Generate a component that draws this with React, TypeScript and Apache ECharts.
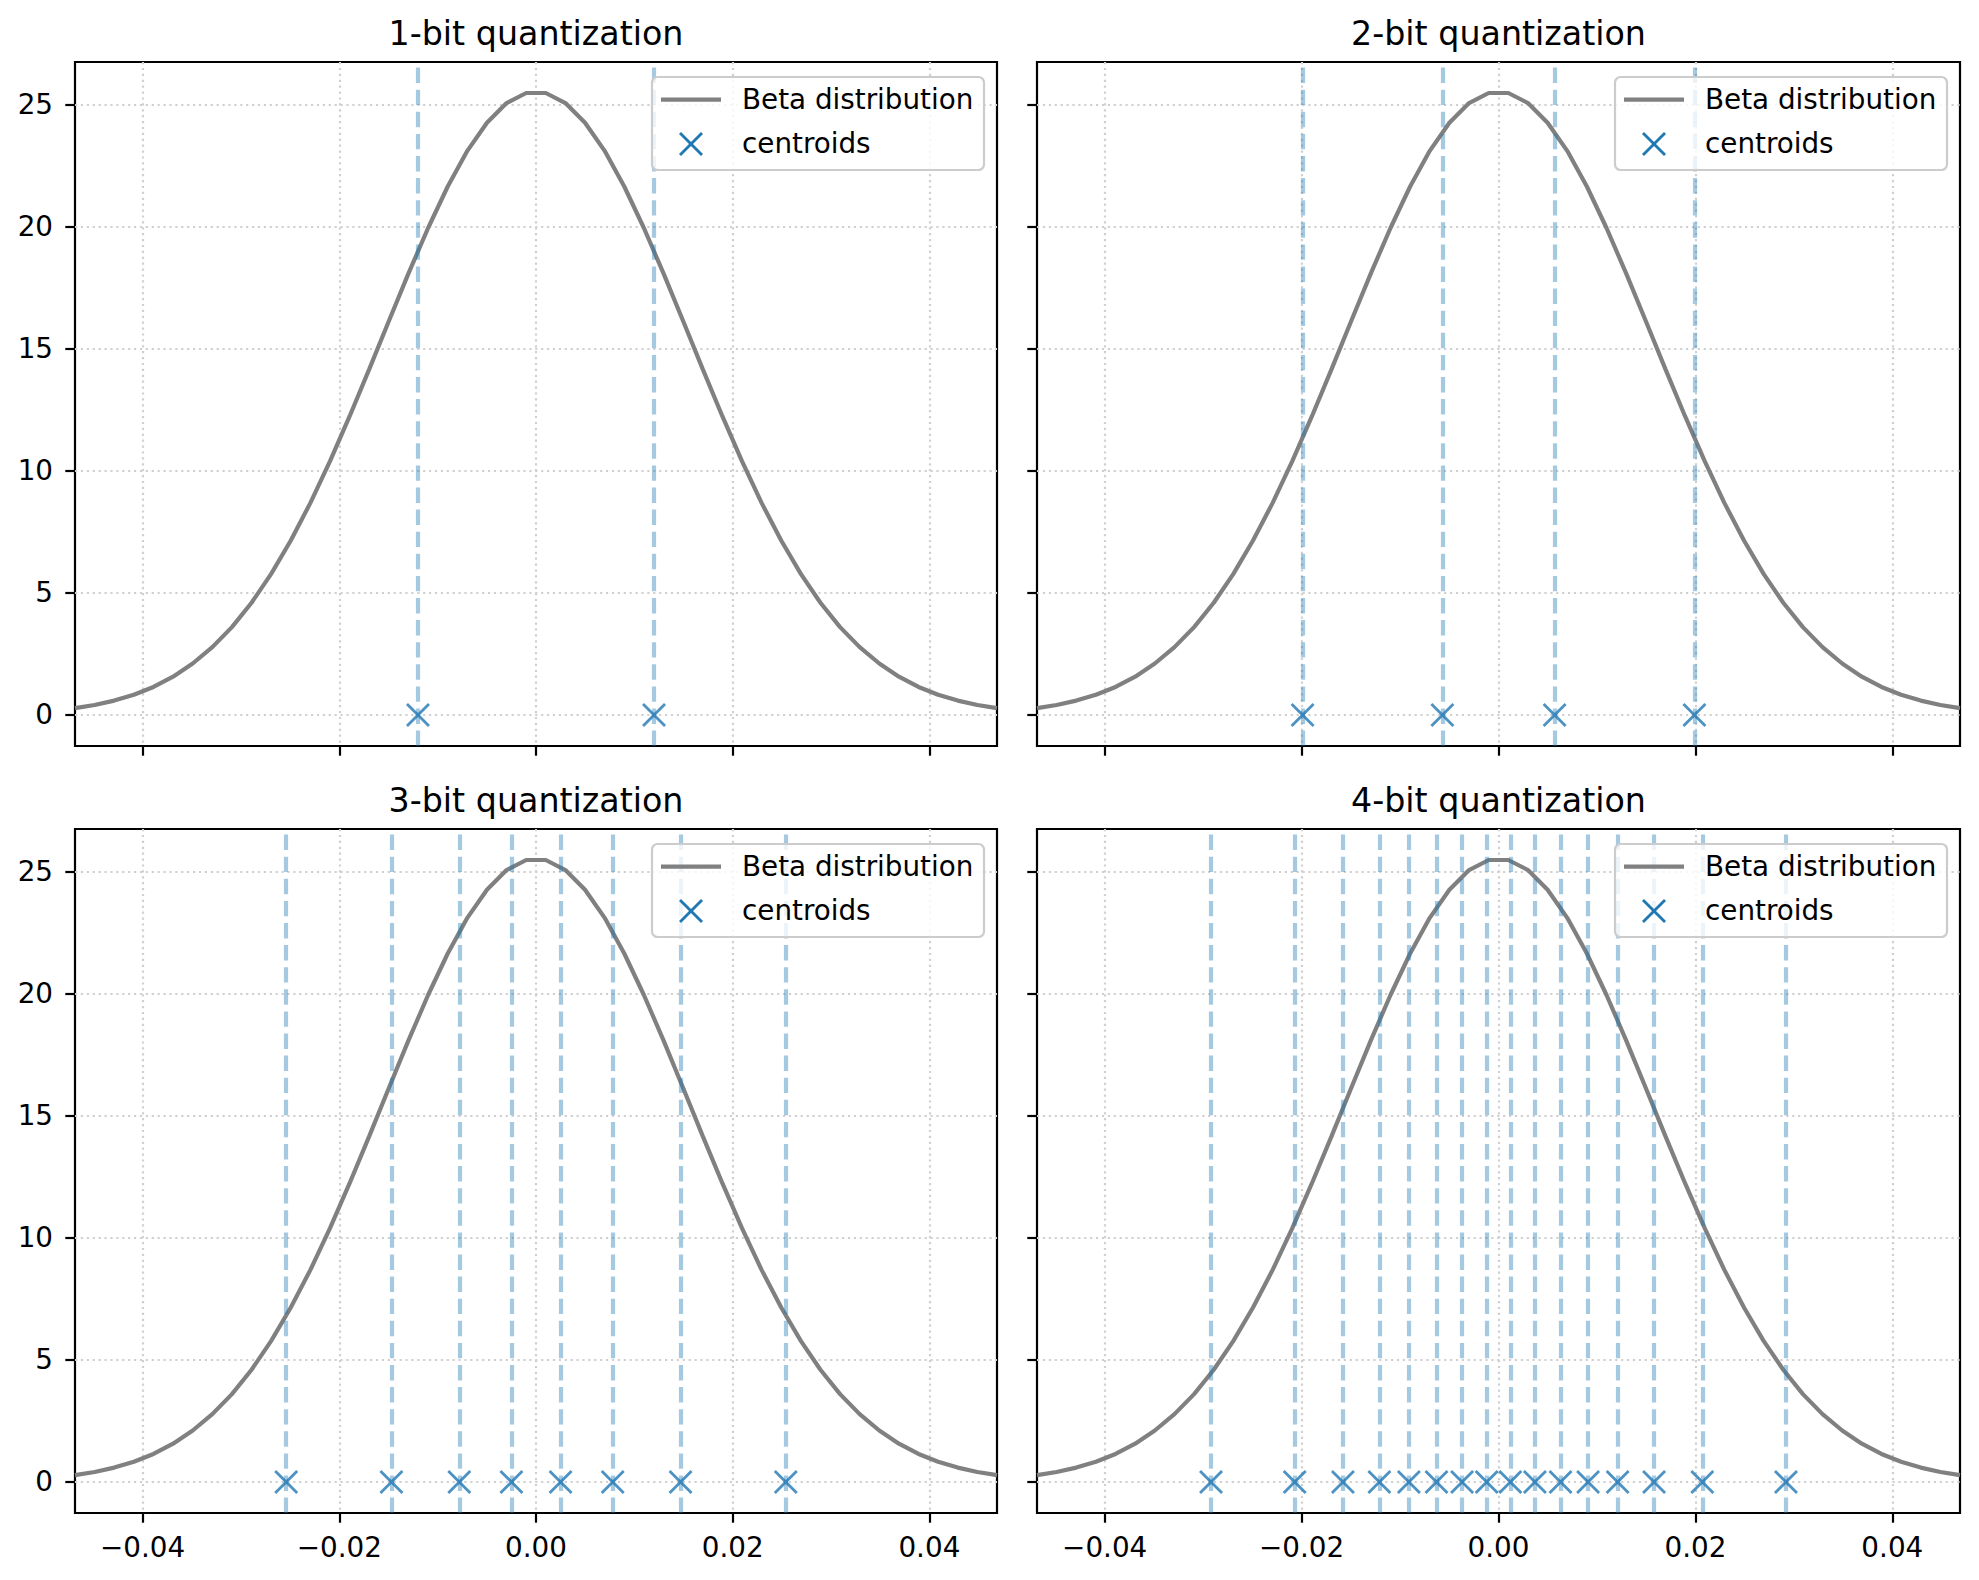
import React, { useEffect, useRef } from "react";
import * as echarts from "echarts";

// Sample positions of the plotted density curve
const XS = [
  -0.046875, -0.04488, -0.042886, -0.040891, -0.038896, -0.036902, -0.034907, -0.032912,
  -0.030918, -0.028923, -0.026928, -0.024934, -0.022939, -0.020944, -0.018949, -0.016955,
  -0.01496, -0.012965, -0.010971, -0.008976, -0.006981, -0.004987, -0.002992, -0.000997,
  0.000997, 0.002992, 0.004987, 0.006981, 0.008976, 0.010971, 0.012965, 0.01496,
  0.016955, 0.018949, 0.020944, 0.022939, 0.024934, 0.026928, 0.028923, 0.030918,
  0.032912, 0.034907, 0.036902, 0.038896, 0.040891, 0.042886, 0.04488, 0.046875,
];
// Beta distribution density
const DENSITY = [
  0.28, 0.41, 0.59, 0.83, 1.15, 1.57, 2.11, 2.78, 3.6, 4.6, 5.78, 7.15,
  8.69, 10.4, 12.24, 14.17, 16.14, 18.09, 19.95, 21.65, 23.11, 24.26, 25.07, 25.48,
  25.48, 25.07, 24.26, 23.11, 21.65, 19.95, 18.09, 16.14, 14.17, 12.24, 10.4, 8.69,
  7.15, 5.78, 4.6, 3.6, 2.78, 2.11, 1.57, 1.15, 0.83, 0.59, 0.41, 0.28,
];

const CENTROIDS_1 = [-0.012, 0.012];
const CENTROIDS_2 = [-0.0199, -0.0057, 0.0057, 0.0199];
const CENTROIDS_3 = [-0.0254, -0.0147, -0.0078, -0.0025, 0.0025, 0.0078, 0.0147, 0.0254];
const CENTROIDS_4 = [
  -0.0292, -0.0207, -0.0158, -0.0121, -0.0091, -0.0063, -0.0037, -0.0012,
  0.0012, 0.0037, 0.0063, 0.0091, 0.0121, 0.0158, 0.0207, 0.0292,
];
const CENTROID_SETS = [CENTROIDS_1, CENTROIDS_2, CENTROIDS_3, CENTROIDS_4];

const TITLES = ["1-bit quantization", "2-bit quantization", "3-bit quantization", "4-bit quantization"];
const LEGEND_LABELS = ["Beta distribution", "centroids"];
const X_TICKS = [-0.04, -0.02, 0, 0.02, 0.04];
const Y_TICKS = [0, 5, 10, 15, 20, 25];
const X_MIN = -0.046875;
const X_MAX = 0.046875;
const Y_MIN = -1.27;
const Y_MAX = 26.75;

const FONT = "DejaVu Sans";
const PANELS = [
  { left: 75, top: 62, width: 922, height: 684 },
  { left: 1037, top: 62, width: 923, height: 684 },
  { left: 75, top: 829, width: 922, height: 684 },
  { left: 1037, top: 829, width: 923, height: 684 },
];

const fmtX = (v: number) => {
  if (Math.abs(v) < 1e-12) return "0.00";
  return (v < 0 ? "\u2212" : "") + Math.abs(v).toFixed(2);
};

function buildOption() {
  const grid = PANELS.map((p) => ({
    left: p.left,
    top: p.top,
    width: p.width,
    height: p.height,
    show: true,
    borderColor: "#000",
    borderWidth: 2.2,
    backgroundColor: "#fff",
    containLabel: false,
  }));

  const splitLine = {
    show: true,
    lineStyle: { color: "#d0d0d0", width: 2.2, type: [2.2, 3.7] },
  };

  const xAxis = PANELS.map((_, i) => ({
    type: "value",
    gridIndex: i,
    position: "bottom",
    min: X_MIN,
    max: X_MAX,
    axisLine: { show: false, onZero: false },
    axisTick: {
      show: true,
      length: 9.7,
      inside: false,
      customValues: X_TICKS,
      lineStyle: { color: "#000", width: 2.2 },
    },
    axisLabel: {
      show: i >= 2,
      customValues: X_TICKS,
      margin: 20,
      fontFamily: FONT,
      fontSize: 27.8,
      color: "#000",
      formatter: (v: number) => fmtX(v),
    },
    splitLine,
  }));

  const yAxis = PANELS.map((_, i) => ({
    type: "value",
    gridIndex: i,
    position: "left",
    min: Y_MIN,
    max: Y_MAX,
    axisLine: { show: false, onZero: false },
    axisTick: {
      show: true,
      length: 9.7,
      inside: false,
      customValues: Y_TICKS,
      lineStyle: { color: "#000", width: 2.2 },
    },
    axisLabel: {
      show: i % 2 === 0,
      customValues: Y_TICKS,
      margin: 22,
      fontFamily: FONT,
      fontSize: 27.8,
      color: "#000",
      formatter: (v: number) => String(Math.round(v)),
    },
    splitLine,
  }));

  const series: any[] = [];
  PANELS.forEach((_, i) => {
    const cents = CENTROID_SETS[i];
    series.push({
      type: "line",
      name: LEGEND_LABELS[0],
      xAxisIndex: i,
      yAxisIndex: i,
      data: XS.map((x, k) => [x, DENSITY[k]]),
      showSymbol: false,
      symbol: "none",
      lineStyle: { color: "#808080", width: 4.2 },
      z: 2,
      silent: true,
    });
    series.push({
      type: "line",
      name: "vlines" + i,
      xAxisIndex: i,
      yAxisIndex: i,
      data: cents.map((c) => [c, 0]),
      showSymbol: false,
      symbol: "none",
      lineStyle: { width: 0, opacity: 0 },
      z: 3,
      silent: true,
      markLine: {
        silent: true,
        precision: 10,
        symbol: ["none", "none"],
        label: { show: false },
        lineStyle: { color: "#1f77b4", opacity: 0.4, width: 4.2, type: [15.4, 6.7] },
        emphasis: { disabled: true },
        data: cents.map((c) => ({ xAxis: c })),
      },
    });
    series.push({
      type: "scatter",
      name: LEGEND_LABELS[1],
      xAxisIndex: i,
      yAxisIndex: i,
      data: cents.map((c) => [c, 0]),
      symbol: "path://M0,0L10,10M10,0L0,10",
      symbolSize: 22,
      itemStyle: { color: "transparent", borderColor: "#1f77b4", borderWidth: 2.8 },
      z: 4,
      silent: true,
    });
  });

  const graphic: any[] = [];
  PANELS.forEach((p, i) => {
    graphic.push({
      type: "text",
      x: p.left + p.width / 2,
      y: p.top - 28.5,
      z: 100,
      style: {
        text: TITLES[i],
        fontFamily: FONT,
        fontSize: 33.3,
        fill: "#000",
        align: "center",
        verticalAlign: "middle",
      },
    });
    const bx = p.left + p.width - 13 - 332;
    const by = p.top + 15;
    graphic.push({
      type: "group",
      x: bx,
      y: by,
      z: 100,
      children: [
        {
          type: "rect",
          z: 100,
          shape: { x: 0, y: 0, width: 332, height: 93, r: 5.6 },
          style: { fill: "rgba(255,255,255,0.8)", stroke: "#cccccc", lineWidth: 2.2 },
        },
        {
          type: "line",
          z: 101,
          shape: { x1: 9, y1: 22.7, x2: 69, y2: 22.7 },
          style: { stroke: "#808080", lineWidth: 4.2 },
        },
        {
          type: "text",
          z: 101,
          x: 90,
          y: 22.7,
          style: {
            text: LEGEND_LABELS[0],
            fontFamily: FONT,
            fontSize: 27.8,
            fill: "#000",
            align: "left",
            verticalAlign: "middle",
          },
        },
        {
          type: "line",
          z: 101,
          shape: { x1: 28, y1: 56, x2: 50, y2: 78 },
          style: { stroke: "#1f77b4", lineWidth: 2.8 },
        },
        {
          type: "line",
          z: 101,
          shape: { x1: 50, y1: 56, x2: 28, y2: 78 },
          style: { stroke: "#1f77b4", lineWidth: 2.8 },
        },
        {
          type: "text",
          z: 101,
          x: 90,
          y: 66,
          style: {
            text: LEGEND_LABELS[1],
            fontFamily: FONT,
            fontSize: 27.8,
            fill: "#000",
            align: "left",
            verticalAlign: "middle",
          },
        },
      ],
    });
  });

  return {
    animation: false,
    backgroundColor: "#ffffff",
    textStyle: { fontFamily: FONT },
    grid,
    xAxis,
    yAxis,
    series,
    graphic,
  };
}

export default function App() {
  const ref = useRef<HTMLDivElement>(null);
  useEffect(() => {
    if (!ref.current) return;
    const chart = echarts.init(ref.current, null, { renderer: "svg" });
    chart.setOption(buildOption() as any);
    return () => chart.dispose();
  }, []);
  return (
    <div
      ref={ref}
      style={{
        position: "absolute",
        left: 0,
        top: 0,
        width: 1979,
        height: 1580,
        background: "#fff",
      }}
    />
  );
}
